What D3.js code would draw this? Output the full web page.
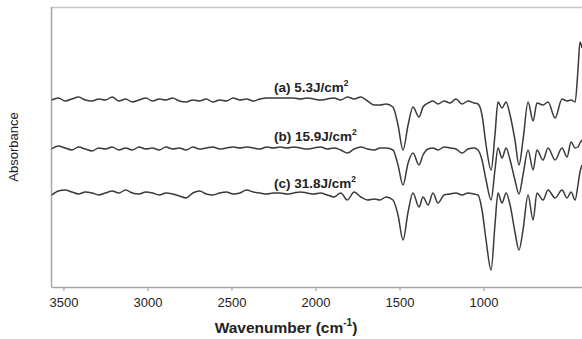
<!DOCTYPE html>
<html><head><meta charset="utf-8">
<script src="https://cdn.jsdelivr.net/npm/d3@7/dist/d3.min.js"></script>
<style>body{margin:0;background:#fff}svg{display:block}text{font-family:"Liberation Sans",Arial,sans-serif}</style>
</head><body><svg id="chart" width="582" height="339"></svg>
<script>
// Wavenumber grid (cm^-1), shared by all three spectra
const wavenumbers = [
 3570,3530,3490,3450,3410,3370,3330,3290,3250,3210,3170,3130,3090,3050,3010,2970,2930,2890,2850,2810,
 2770,2730,2690,2650,2610,2570,2530,2490,2450,2410,2370,2330,2290,2250,2210,2170,2130,2090,2050,2010,
 1970,1930,1890,1850,1810,1770,1730,1690,1650,
 1616,1580,1539,1509,1479,1449,1420,1384,1360,1330,1301,1271,1235,1199,1164,1128,1092,1057,1033,1009,
 985,955,932,914,890,866,842,813,789,765,735,705,682,646,616,574,533,503,479,455,438,426,414
];
// (a) 5.3 J/cm2
const seriesA = [
 1.87,1.89,1.86,1.88,1.90,1.87,1.86,1.88,1.87,1.90,1.86,1.88,1.85,1.87,1.89,1.86,1.88,1.87,1.89,1.86,
 1.85,1.87,1.86,1.88,1.85,1.87,1.86,1.89,1.87,1.88,1.86,1.88,1.89,1.89,1.89,1.89,1.89,1.88,1.89,1.88,
 1.87,1.88,1.89,1.87,1.90,1.88,1.90,1.86,1.82,
 1.82,1.83,1.80,1.62,1.37,1.62,1.80,1.70,1.80,1.84,1.86,1.83,1.86,1.84,1.88,1.83,1.86,1.84,1.83,1.72,
 1.42,1.17,1.52,1.85,1.79,1.85,1.72,1.47,1.22,1.47,1.85,1.66,1.84,1.82,1.85,1.69,1.88,1.86,1.87,1.85,2.17,2.45,2.39
];
// (b) 15.9 J/cm2
const seriesB = [
 1.38,1.41,1.39,1.37,1.40,1.38,1.36,1.39,1.38,1.40,1.37,1.39,1.37,1.40,1.38,1.39,1.37,1.40,1.38,1.39,
 1.37,1.40,1.38,1.39,1.40,1.38,1.39,1.40,1.39,1.40,1.39,1.38,1.40,1.39,1.40,1.39,1.40,1.39,1.38,1.39,
 1.40,1.38,1.39,1.37,1.34,1.38,1.40,1.38,1.37,
 1.39,1.39,1.37,1.22,1.02,1.24,1.34,1.22,1.32,1.38,1.39,1.37,1.40,1.39,1.38,1.34,1.38,1.39,1.37,1.27,
 1.07,0.87,1.17,1.39,1.29,1.39,1.27,1.07,0.93,1.12,1.37,1.17,1.37,1.27,1.39,1.27,1.39,1.30,1.45,1.39,1.40,1.44,1.47
];
// (c) 31.8 J/cm2
const seriesC = [
 0.92,0.96,0.97,0.95,0.93,0.95,0.94,0.92,0.94,0.96,0.94,0.97,0.94,0.93,0.95,0.94,0.92,0.94,0.93,0.91,
 0.89,0.94,0.96,0.93,0.92,0.94,0.95,0.93,0.94,0.97,0.95,0.94,0.93,0.94,0.94,0.93,0.94,0.95,0.94,0.93,
 0.94,0.92,0.90,0.94,0.87,0.95,0.90,0.87,0.88,
 0.87,0.90,0.87,0.72,0.47,0.75,0.94,0.80,0.90,0.82,0.94,0.84,0.92,0.93,0.94,0.92,0.94,0.93,0.92,0.77,
 0.47,0.17,0.62,0.94,0.84,0.94,0.82,0.55,0.37,0.57,0.92,0.67,0.94,0.87,0.97,0.89,0.97,0.89,0.95,0.87,1.02,1.15,1.22
];
const seriesLabels = ["(a) 5.3J/cm", "(b) 15.9J/cm", "(c) 31.8J/cm"];
const labelSup = "2";
const labelAt = [[2247, 1.95], [2247, 1.46], [2247, 0.99]];
const xTicks = [3500, 3000, 2500, 2000, 1500, 1000];
const xDomain = [3574, 414];
const yDomain = [0, 2.8];

const svg = d3.select("#chart");
const m = {left: 51, right: 0, top: 7, bottom: 52};
const W = 582, H = 339;
const x = d3.scaleLinear().domain(xDomain).range([m.left, W - m.right]);
const y = d3.scaleLinear().domain(yDomain).range([H - m.bottom, m.top]);

svg.append("defs").append("clipPath").attr("id", "clip")
  .append("rect").attr("x", m.left).attr("y", m.top).attr("width", W - m.left).attr("height", H - m.bottom - m.top);

const axisCol = "#a6a6a6";
svg.append("line").attr("x1", m.left).attr("x2", W).attr("y1", m.top + 0.5).attr("y2", m.top + 0.5)
  .attr("stroke", "#c8c8c8").attr("stroke-width", 1.5);
svg.append("line").attr("x1", m.left + 0.5).attr("x2", m.left + 0.5).attr("y1", m.top).attr("y2", H - m.bottom)
  .attr("stroke", axisCol).attr("stroke-width", 1.5);

const xAxis = svg.append("g").attr("transform", `translate(0,${H - m.bottom})`)
  .call(d3.axisBottom(x).tickValues(xTicks).tickFormat(d3.format("d")).tickSize(4).tickPadding(7).tickSizeOuter(0));
xAxis.select(".domain").attr("stroke", axisCol).attr("stroke-width", 1.5);
xAxis.selectAll(".tick line").attr("stroke", axisCol).attr("stroke-width", 1.2);
xAxis.selectAll(".tick text").attr("font-size", 13).attr("fill", "#222")
  .attr("font-family", "'Liberation Sans', Arial, sans-serif");

const series = [seriesA, seriesB, seriesC];
const line = d3.line().x(d => x(d[0])).y(d => y(d[1])).curve(d3.curveMonotoneX);
const g = svg.append("g").attr("clip-path", "url(#clip)");
series.forEach(vals => {
  const pts = wavenumbers.map((w, i) => [w, vals[i]]);
  g.append("path").datum(pts).attr("d", line)
    .attr("fill", "none").attr("stroke", "#3a3a3a").attr("stroke-width", 1.5)
    .attr("stroke-linejoin", "round");
});

seriesLabels.forEach((t, i) => {
  const tx = svg.append("text").attr("x", x(labelAt[i][0])).attr("y", y(labelAt[i][1]))
    .attr("font-size", 13.5).attr("fill", "#222").attr("font-weight", "bold");
  tx.append("tspan").text(t);
  tx.append("tspan").text(labelSup).attr("font-size", 8.5).attr("dy", -6);
});

const title = svg.append("text").attr("x", 286).attr("y", 333).attr("text-anchor", "middle")
  .attr("font-size", 15.5).attr("font-weight", "bold").attr("fill", "#222");
title.append("tspan").text("Wavenumber (cm");
title.append("tspan").text("-1").attr("font-size", 10).attr("dy", -7);
title.append("tspan").text(")").attr("dy", 7);

svg.append("text").attr("transform", "translate(18,147) rotate(-90)").attr("text-anchor", "middle")
  .attr("font-size", 13).attr("fill", "#222").text("Absorbance");
</script></body></html>
